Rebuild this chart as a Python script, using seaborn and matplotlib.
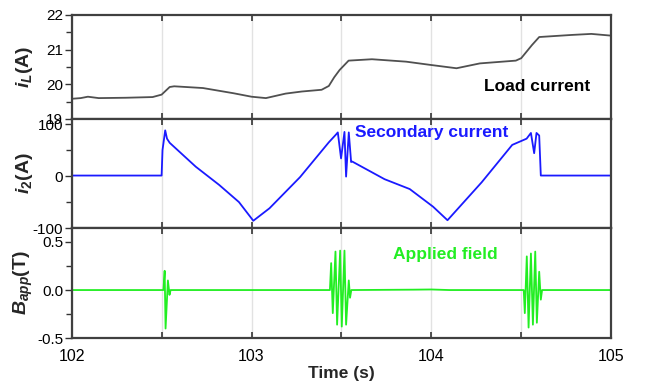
import matplotlib
matplotlib.use("Agg")
import matplotlib.pyplot as plt
from matplotlib.ticker import MultipleLocator
import pandas as pd
import seaborn as sns

# === Data ===
load_t = [102.00, 102.05, 102.09, 102.15, 102.30, 102.45, 102.50, 102.545, 102.57,
          102.73, 102.90, 103.00, 103.08, 103.19, 103.28, 103.39, 103.43, 103.46,
          103.49, 103.54, 103.67, 103.86, 103.99, 104.14, 104.27, 104.47, 104.50,
          104.56, 104.60, 104.78, 104.89, 105.00]
load_i = [19.58, 19.60, 19.64, 19.60, 19.61, 19.63, 19.70, 19.92, 19.94,
          19.89, 19.74, 19.64, 19.60, 19.73, 19.79, 19.84, 19.95, 20.20,
          20.41, 20.68, 20.72, 20.65, 20.56, 20.46, 20.60, 20.68, 20.75,
          21.13, 21.36, 21.42, 21.45, 21.40]

sec_t = [102.00, 102.50, 102.505, 102.52, 102.53, 102.545, 102.69, 102.82, 102.93,
         103.01, 103.10, 103.27, 103.43, 103.47, 103.48, 103.498, 103.517, 103.526,
         103.541, 103.554, 103.56, 103.74, 103.88, 104.01, 104.09, 104.28, 104.45,
         104.53, 104.554, 104.572, 104.585, 104.60, 104.609, 105.00]
sec_i = [1, 1, 50, 88, 72, 64, 18, -17, -50,
         -86, -62, -2, 65, 80, 84, 34, 85, -1,
         84, 27, 28, -6, -25, -59, -85, -12, 60,
         72, 83, 44, 83, 78, 1, 1]

field_t = [102.00, 102.510, 102.517, 102.522, 102.535, 102.544, 102.55,
           103.436, 103.443, 103.452, 103.467, 103.476, 103.493, 103.502,
           103.517, 103.526, 103.541, 103.548, 103.555,
           103.90, 104.00, 104.10,
           104.514, 104.520, 104.531, 104.541, 104.554, 104.565, 104.578,
           104.587, 104.600, 104.609, 104.616, 105.00]
field_b = [0.0, 0.0, 0.20, -0.40, 0.10, -0.05, 0.0,
           0.0, 0.28, -0.24, 0.40, -0.36, 0.41, -0.38,
           0.41, -0.36, 0.10, -0.08, 0.0,
           0.004, 0.006, 0.0,
           0.0, -0.24, 0.35, -0.39, 0.38, -0.36, 0.40,
           -0.34, 0.19, -0.10, 0.0, 0.0]

load_df = pd.DataFrame({"t": load_t, "v": load_i})
sec_df = pd.DataFrame({"t": sec_t, "v": sec_i})
field_df = pd.DataFrame({"t": field_t, "v": field_b})

# === Style ===
sns.set_theme(style="white")
plt.rcParams["font.family"] = ["Liberation Sans", "DejaVu Sans"]
plt.rcParams["mathtext.fontset"] = "custom"
plt.rcParams["mathtext.it"] = "Liberation Sans:italic:bold"
plt.rcParams["mathtext.rm"] = "Liberation Sans:bold"
plt.rcParams["mathtext.bf"] = "Liberation Sans:bold"

fig, axes = plt.subplots(3, 1, sharex=True, figsize=(6.46, 3.9), dpi=100,
                         gridspec_kw={"height_ratios": [104, 109, 110], "hspace": 0})
fig.subplots_adjust(left=0.111, right=0.946, top=0.962, bottom=0.133)

panels = [
    (load_df, "#505050", (19, 22), 1.0, r"$i_L$(A)", "Load current", (104.59, 19.92)),
    (sec_df, "#1a1aff", (-100, 110), 100, r"$i_2$(A)", "Secondary current", (104.0, 83)),
    (field_df, "#22ee22", (-0.5, 0.645), 0.5, r"$B_{app}$(T)", "Applied field", (104.08, 0.365)),
]

for ax, (df, color, ylim, step, ylab, name, pos) in zip(axes, panels):
    sns.lineplot(data=df, x="t", y="v", ax=ax, color=color, linewidth=1.3,
                 estimator=None, sort=False)
    ax.set_ylim(*ylim)
    ax.set_xlim(102, 105)
    ax.yaxis.set_major_locator(MultipleLocator(step))
    ax.yaxis.set_minor_locator(MultipleLocator(step / 2))
    ax.xaxis.set_major_locator(MultipleLocator(1))
    ax.xaxis.set_minor_locator(MultipleLocator(0.5))
    ax.grid(True, which="both", axis="x", color="#e2e2e2", linewidth=1.0)
    ax.tick_params(axis="y", which="both", direction="out", left=True, labelsize=11,
                   colors="#333333", labelcolor="black", pad=1)
    ax.tick_params(axis="y", which="major", length=5, width=1)
    ax.tick_params(axis="y", which="minor", length=4, width=1)
    ax.tick_params(axis="x", which="both", direction="in", top=True, bottom=True,
                   length=4, width=1.2, colors="#333333", labelcolor="black",
                   labelsize=11.5, pad=8)
    for s in ax.spines.values():
        s.set_color("#404040")
        s.set_linewidth(1.6)
    ax.set_ylabel(ylab, fontsize=14, fontweight="bold")
    ax.yaxis.set_label_coords(-0.068, 0.5)
    ax.set_xlabel("")
    ax.text(pos[0], pos[1], name, color=color if name != "Load current" else "black",
            fontsize=12.5, fontweight="bold", ha="center", va="center")

axes[0].yaxis.set_major_formatter(plt.FuncFormatter(lambda v, p: f"{v:.0f}"))
axes[1].yaxis.set_major_formatter(plt.FuncFormatter(lambda v, p: f"{v:.0f}"))
axes[2].yaxis.set_major_formatter(plt.FuncFormatter(lambda v, p: f"{v:.1f}"))
axes[2].set_xlabel("Time (s)", fontsize=12.5, fontweight="bold", labelpad=1)

fig.savefig("out.png", dpi=100)
